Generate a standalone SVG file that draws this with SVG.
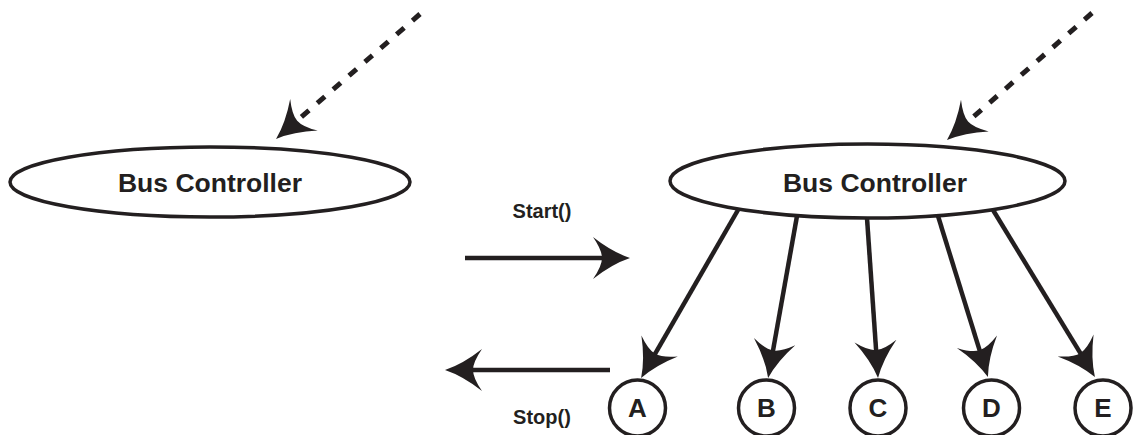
<svg xmlns="http://www.w3.org/2000/svg" width="1136" height="435" viewBox="0 0 1136 435">
<style>
.node{fill:#fff;stroke:#231f20;stroke-width:3.5}
.lbl{font-family:"Liberation Sans",Arial,sans-serif;font-weight:bold;fill:#231f20;text-anchor:middle}
.big{font-size:26.5px}
.small{font-size:20px}
.letter{font-size:26px}
.edge{stroke:#231f20;stroke-width:4.5;fill:none;marker-end:url(#head)}
.dash{stroke-dasharray:10 11;stroke-width:5}
</style>
<defs>
<marker id="head" viewBox="-14 -23 42 46" markerWidth="42" markerHeight="46" refX="0" refY="0" orient="auto" markerUnits="userSpaceOnUse">
<path d="M25,0 Q7,-6 -12,-21 Q-3,-8 -3,0 Q-3,8 -12,21 Q7,6 25,0 Z" fill="#231f20"/>
</marker>
</defs>
<g id="bc-left">
<ellipse class="node" cx="210" cy="182" rx="200" ry="35"/>
<text class="lbl big" x="210" y="192">Bus Controller</text>
</g>
<g id="bc-right">
<ellipse class="node" cx="867.5" cy="181" rx="197.5" ry="37"/>
<text class="lbl big" x="875" y="192">Bus Controller</text>
</g>
<g id="node-a"><circle class="node" cx="637.5" cy="408" r="28"/><text class="lbl letter" x="637.5" y="417">A</text></g>
<g id="node-b"><circle class="node" cx="766.5" cy="408" r="28"/><text class="lbl letter" x="766.5" y="417">B</text></g>
<g id="node-c"><circle class="node" cx="878" cy="408" r="28"/><text class="lbl letter" x="878" y="417">C</text></g>
<g id="node-d"><circle class="node" cx="991.5" cy="408" r="28"/><text class="lbl letter" x="991.5" y="417">D</text></g>
<g id="node-e"><circle class="node" cx="1103" cy="408" r="28"/><text class="lbl letter" x="1103" y="417">E</text></g>
<g id="labels">
<text class="lbl small" x="542" y="218">Start()</text>
<text class="lbl small" x="542" y="424">Stop()</text>
</g>
<g id="connectors">
<line class="edge dash" x1="420" y1="14" x2="294.9" y2="122.6"/>
<line class="edge dash" x1="1092" y1="13" x2="965.8" y2="123.5"/>
<line class="edge" x1="465" y1="258" x2="605" y2="258"/>
<line class="edge" x1="610" y1="370" x2="470" y2="370"/>
<line class="edge" x1="738" y1="210" x2="653.6" y2="356.4"/>
<line class="edge" x1="797" y1="216" x2="772.5" y2="353.4"/>
<line class="edge" x1="867" y1="218" x2="876.3" y2="353.1"/>
<line class="edge" x1="938" y1="216" x2="980.5" y2="353.2"/>
<line class="edge" x1="993" y1="210" x2="1081.9" y2="355.7"/>
</g>
</svg>
